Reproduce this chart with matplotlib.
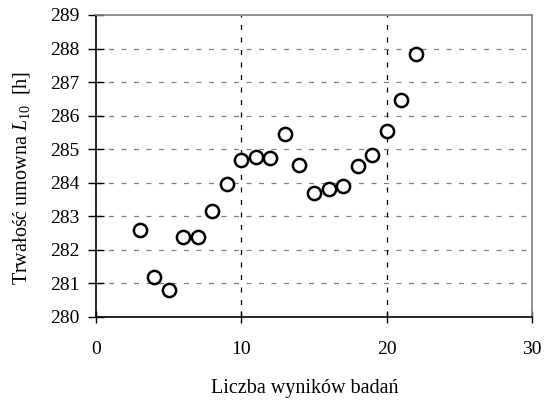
import matplotlib
matplotlib.use('Agg')
import matplotlib.pyplot as plt

plt.rcParams['font.family'] = 'Liberation Serif'
plt.rcParams['mathtext.fontset'] = 'custom'
plt.rcParams['mathtext.rm'] = 'Liberation Serif'
plt.rcParams['mathtext.it'] = 'Liberation Serif:italic'

# data
n_results = [3, 4, 5, 6, 7, 8, 9, 10, 11, 12, 13, 14, 15, 16, 17, 18, 19, 20, 21, 22]
l10_hours = [282.59, 281.18, 280.79, 282.39, 282.39, 283.17, 283.97, 284.68, 284.78, 284.75,
             285.44, 284.52, 283.70, 283.82, 283.91, 284.50, 284.82, 285.55, 286.47, 287.84]
x_ticks = [0, 10, 20, 30]
y_ticks = list(range(280, 290))

fig = plt.figure(figsize=(5.44, 4.03), dpi=100)
ax = fig.add_axes([96 / 544, 1 - 317 / 403, 436 / 544, 302 / 403])

ax.plot(n_results, l10_hours, linestyle='none', marker='o', markersize=9.5,
        markerfacecolor='white', markeredgecolor='black', markeredgewidth=1.8,
        zorder=3, clip_on=False)

ax.set_xlim(0, 30)
ax.set_ylim(280, 289)
ax.set_xticks(x_ticks)
ax.set_yticks(y_ticks)

# grid: gray dashed horizontals, black dashed verticals
for y in y_ticks[1:-1]:
    ax.axhline(y, color='#808080', linestyle=(0, (4, 6)), linewidth=0.9, zorder=1)
for x in x_ticks[1:-1]:
    ax.axvline(x, color='black', linestyle=(0, (4, 6)), linewidth=0.9, zorder=1)

ax.spines['left'].set_color('black')
ax.spines['bottom'].set_color('black')
ax.spines['top'].set_color('#808080')
ax.spines['right'].set_color('#808080')
for s in ax.spines.values():
    s.set_linewidth(1.2)

ax.tick_params(axis='both', direction='inout', width=1, labelsize=14, colors='black')
ax.tick_params(axis='x', length=9, pad=13)
ax.tick_params(axis='y', length=12, pad=6)

fig.text(305 / 544, 1 - 388 / 403, 'Liczba wyników badań', fontsize=14.5,
         ha='center', va='center')
fig.text(22 / 544, 1 - 178 / 403, 'Trwałość umowna $\\mathit{L}_{\\mathit{10}}$  [h]',
         fontsize=14.5, rotation=90, ha='center', va='center')

fig.savefig('out.png', dpi=100)
